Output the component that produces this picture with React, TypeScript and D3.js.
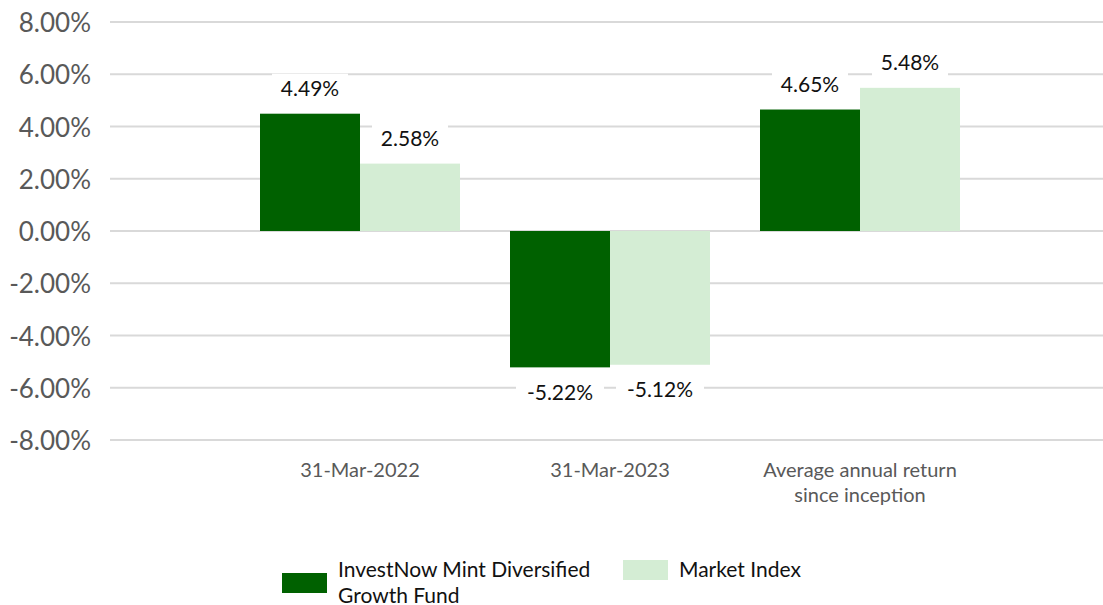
import React from "react";
import * as d3 from "d3";

const categories: string[][] = [["31-Mar-2022"], ["31-Mar-2023"], ["Average annual return", "since inception"]];
const fundValues = [4.49, -5.22, 4.65];
const indexValues = [2.58, -5.12, 5.48];
const yTicks = [-8, -6, -4, -2, 0, 2, 4, 6, 8];
const seriesNames = ["InvestNow Mint Diversified", "Growth Fund", "Market Index"];

const W = 1103, H = 605;
const DARK = "#006100";
const LIGHT = "#d4edd4";
const FONT = "Lato, 'Open Sans', sans-serif";

export default function App() {
  const keys = categories.map((c) => c.join(" "));
  const x = d3.scaleBand<string>().domain(keys).range([235, 985]).paddingInner(0.2).paddingOuter(0.1);
  const y = d3.scaleLinear().domain([-8, 8]).range([440, 22]);
  const bw = x.bandwidth() / 2;
  const fmt = (v: number) => v.toFixed(2) + "%";

  const bars: { key: string; v: number; i: number; s: number }[] = [];
  keys.forEach((k, i) => {
    bars.push({ key: k, v: fundValues[i], i, s: 0 });
    bars.push({ key: k, v: indexValues[i], i, s: 1 });
  });

  return (
    <svg width={W} height={H} style={{ position: "absolute", left: 0, top: 0, background: "#fff" }} fontFamily={FONT}>
      {yTicks.map((t) => (
        <g key={t}>
          <line x1={110} x2={W} y1={y(t)} y2={y(t)} stroke="#d9d9d9" strokeWidth={2} />
          <text x={91} y={y(t) + 1} dy="0.35em" textAnchor="end" fontSize={26} fill="#595959">
            {t.toFixed(2) + "%"}
          </text>
        </g>
      ))}
      {bars.map((b, j) => {
        const bx = (x(b.key) as number) + b.s * bw;
        const y0 = y(0), y1 = y(b.v);
        return (
          <rect key={j} x={bx} y={Math.min(y0, y1)} width={bw} height={Math.abs(y1 - y0)} fill={b.s === 0 ? DARK : LIGHT} />
        );
      })}
      {bars.map((b, j) => {
        const cx = (x(b.key) as number) + b.s * bw + bw / 2;
        const ly = b.v >= 0 ? y(b.v) - 25 : y(b.v) + 25;
        const label = fmt(b.v);
        const tw = label.length * 12;
        return (
          <g key={"l" + j}>
            <rect x={cx - tw / 2 - 8} y={ly - 15} width={tw + 16} height={30} fill="#fff" />
            <text x={cx} y={ly} dy="0.35em" textAnchor="middle" fontSize={21} fill="#111">
              {label}
            </text>
          </g>
        );
      })}
      {categories.map((c, i) => (
        <text key={i} x={(x(keys[i]) as number) + x.bandwidth() / 2} y={470} textAnchor="middle" fontSize={20} fill="#595959">
          {c.map((line, k) => (
            <tspan key={k} x={(x(keys[i]) as number) + x.bandwidth() / 2} dy={k === 0 ? "0.35em" : 25}>
              {line}
            </tspan>
          ))}
        </text>
      ))}
      <g>
        <rect x={282} y={573} width={45} height={20} fill={DARK} />
        <text x={338} y={570} dy="0.35em" fontSize={21} fill="#111">
          <tspan x={338}>{seriesNames[0]}</tspan>
          <tspan x={338} dy={25.5}>{seriesNames[1]}</tspan>
        </text>
        <rect x={623} y={560} width={45} height={20} fill={LIGHT} />
        <text x={679} y={569.5} dy="0.35em" fontSize={21} fill="#111">
          {seriesNames[2]}
        </text>
      </g>
    </svg>
  );
}
